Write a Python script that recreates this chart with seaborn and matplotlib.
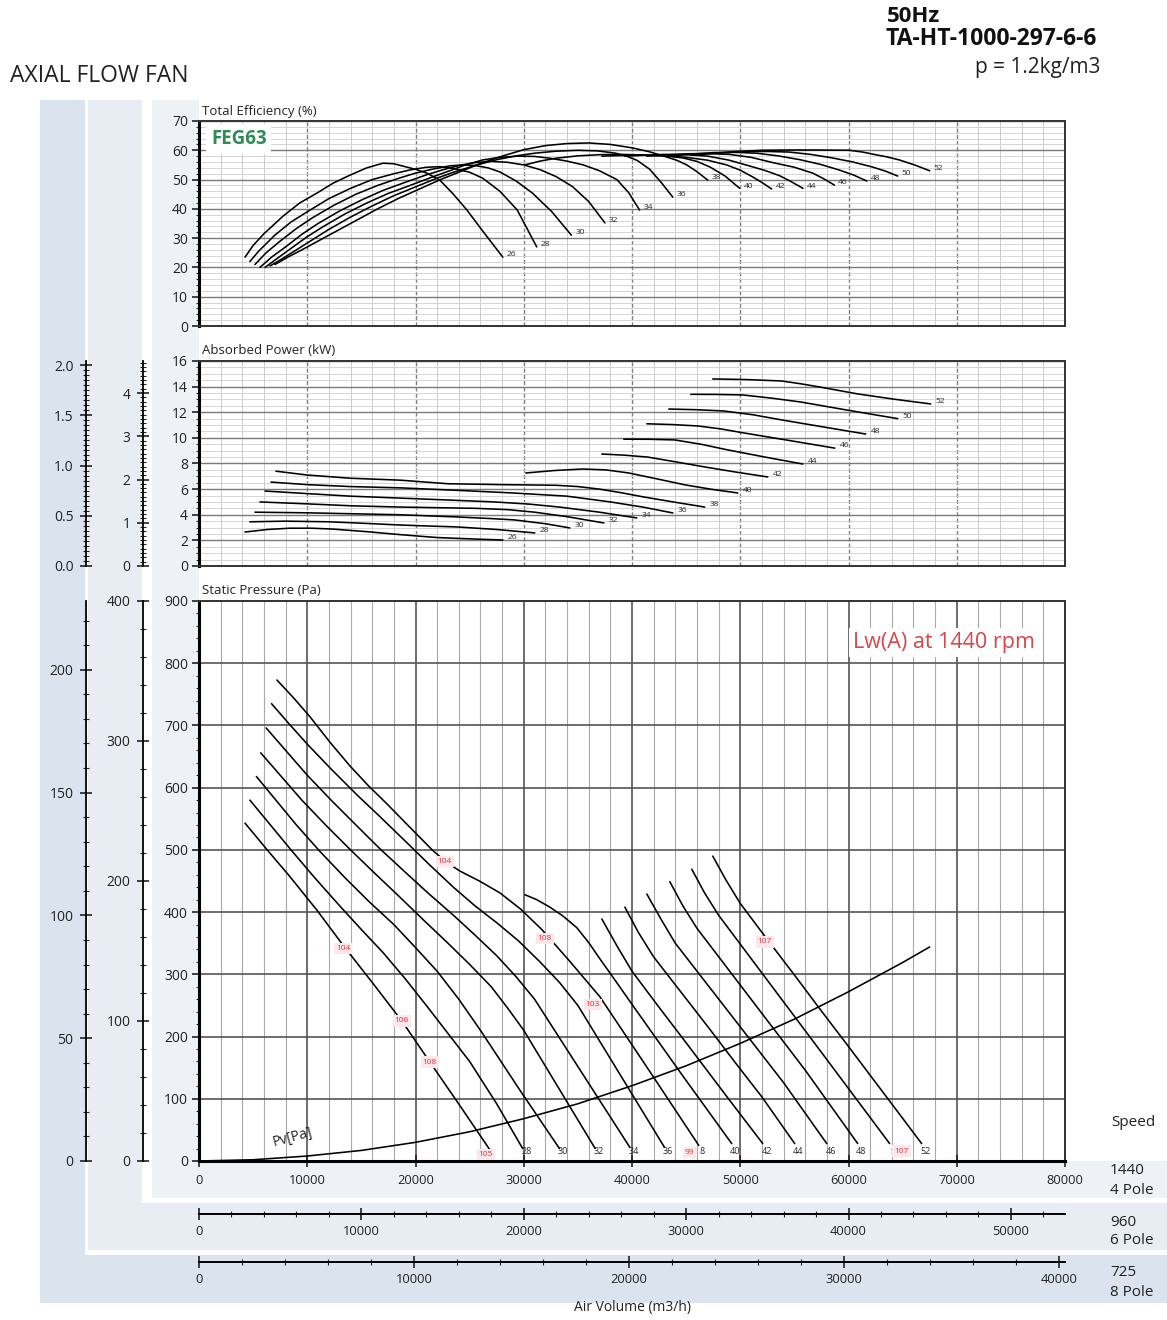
import matplotlib
matplotlib.use("Agg")
import matplotlib.pyplot as plt
from matplotlib.patches import Rectangle
from matplotlib.ticker import MultipleLocator, FormatStrFormatter, NullFormatter
import numpy as np
import pandas as pd
import seaborn as sns

# ---------------- data ----------------
ANGLES = [26, 28, 30, 32, 34, 36, 38, 40, 42, 44, 46, 48, 50, 52]

# Total efficiency (%) vs air volume (m3/h)
E26_X = [4250, 5000, 6000, 7760, 9300, 10900, 12400, 13940, 15500, 17000, 18000, 18840, 20000, 21050, 22250, 23500, 24750, 26400, 28070]
E26_Y = [23.5, 27.5, 31.5, 37.5, 42, 45.4, 48.8, 51.5, 54, 55.6, 55.4, 54.6, 53.5, 52.2, 49.8, 45, 39.6, 31.5, 23.5]
E28_X = [4700, 5500, 7000, 8500, 10000, 12000, 14000, 16000, 18000, 19500, 21000, 22200, 23500, 25000, 26200, 27800, 29400, 31200]
E28_Y = [22, 25.5, 31, 35.5, 39, 43.5, 47, 50, 52, 53.3, 54.2, 54.4, 53.8, 52.5, 50.5, 46, 39.6, 27]
E30_X = [5170, 6200, 7500, 9000, 10500, 12500, 14500, 16500, 18500, 20000, 21500, 23200, 24500, 25500, 26700, 27800, 29300, 30800, 32600, 34400]
E30_Y = [21, 25, 29, 33.3, 37, 41.3, 45, 48, 50.5, 52.2, 53.5, 54.7, 55, 54.8, 54, 52.6, 49.5, 45.4, 39, 31]
E32_X = [5630, 6700, 8000, 9500, 11000, 13000, 15000, 17000, 19000, 21000, 22500, 24000, 25500, 27000, 28500, 30000, 31500, 33000, 34500, 36000, 37500]
E32_Y = [20, 23.5, 27, 31.3, 35, 39.3, 43, 46.3, 49, 51.6, 53.3, 54.8, 55.8, 56.2, 55.9, 55, 53.4, 51, 47.6, 42.5, 35.2]
E34_X = [6100, 7200, 8500, 10000, 11500, 13500, 15500, 17500, 19500, 21500, 23000, 24600, 26200, 27800, 29500, 31000, 32400, 34000, 35500, 37000, 38600, 39700, 40700]
E34_Y = [20, 23, 26.5, 30.5, 34, 38.3, 42, 45.3, 48, 50.8, 52.8, 55, 56.7, 57.6, 58, 57.9, 57.3, 56.3, 55, 53, 50, 45.5, 39.6]
E36_X = [6560, 7700, 9000, 10500, 12000, 14000, 16000, 18000, 20000, 22000, 23500, 25500, 27500, 29300, 31000, 33000, 35000, 36800, 38500, 39500, 40500, 41640, 42700, 43770]
E36_Y = [20.5, 23, 26, 29.5, 33, 37.2, 41, 44.5, 47.5, 50.5, 52.5, 54.8, 56.8, 58.1, 59, 59.7, 60, 59.8, 59, 58, 56.5, 53.5, 49, 44]
E38_X = [7020, 8200, 9500, 11000, 12500, 14500, 16500, 18500, 20500, 22300, 24000, 26000, 28000, 30000, 32000, 34000, 36000, 38000, 40070, 41600, 43210, 44200, 45060, 46000, 47000]
E38_Y = [21, 23.5, 26, 29, 32, 36, 40, 43.7, 47, 50, 52.5, 55.5, 58, 60.2, 61.6, 62.3, 62.5, 62, 60.8, 59.5, 57.7, 56.5, 55, 52.7, 49.8]
E40_X = [30100, 31500, 33000, 35000, 37000, 39000, 41000, 43000, 44700, 46000, 47200, 48600, 49950]
E40_Y = [55, 56.3, 57.3, 58.1, 58.5, 58.6, 58.4, 58.1, 57.4, 56.2, 54.3, 51.2, 47]
E42_X = [37210, 39000, 41000, 43000, 45000, 47000, 48750, 50000, 51150, 52000, 52900]
E42_Y = [58, 58.2, 58.3, 58.1, 57.6, 56.6, 55, 53.2, 50.9, 49, 46.8]
E44_X = [39340, 41000, 43000, 45000, 47000, 49000, 50900, 52300, 53650, 54700, 55800]
E44_Y = [58, 58.3, 58.6, 58.5, 58, 56.6, 54.6, 53.1, 51.3, 49.3, 47]
E46_X = [41370, 43000, 45000, 47000, 49000, 51000, 53000, 55000, 56700, 57700, 58700]
E46_Y = [58, 58.4, 58.8, 58.9, 58.6, 57.6, 55.8, 54.2, 52.2, 50.3, 48.1]
E48_X = [43490, 45500, 47500, 49500, 51500, 53500, 55500, 57400, 59200, 60500, 61700]
E48_Y = [58, 58.7, 59.2, 59.3, 59, 58.1, 56.8, 55.2, 53.2, 51.5, 49.5]
E50_X = [45520, 47500, 50000, 52500, 54500, 56500, 58500, 60400, 62200, 63400, 64550]
E50_Y = [58.3, 58.9, 59.5, 59.6, 59.4, 58.6, 57.4, 56, 54.3, 52.9, 51.2]
E52_X = [47460, 49700, 52000, 54500, 57000, 60100, 61300, 62500, 63600, 64700, 66100, 67500]
E52_Y = [59, 59.6, 60, 60.1, 60.1, 60, 59.4, 58.5, 57.7, 56.7, 55, 53]

# Absorbed power (kW)
P26_X = [4250, 6300, 8400, 10400, 12400, 15500, 18560, 22000, 25580, 28070]
P26_Y = [2.65, 2.85, 2.95, 2.95, 2.88, 2.68, 2.45, 2.22, 2.1, 2.03]
P28_X = [4700, 8000, 12000, 15300, 18560, 21200, 23800, 27500, 31020]
P28_Y = [3.45, 3.5, 3.45, 3.33, 3.2, 3.12, 3.05, 2.85, 2.58]
P30_X = [5170, 10000, 14000, 18560, 23800, 27000, 29100, 32000, 34260]
P30_Y = [4.2, 4.15, 4.08, 4.0, 3.83, 3.7, 3.6, 3.3, 2.97]
P32_X = [5630, 10000, 14000, 18560, 22000, 25580, 28500, 31000, 34000, 37400]
P32_Y = [5.0, 4.85, 4.7, 4.6, 4.55, 4.5, 4.4, 4.2, 3.85, 3.36]
P34_X = [6100, 10000, 14000, 18560, 23000, 27300, 30500, 33300, 37000, 40440]
P34_Y = [5.85, 5.65, 5.45, 5.3, 5.15, 5.0, 4.83, 4.6, 4.2, 3.75]
P36_X = [6650, 10000, 14000, 18560, 24000, 29000, 34000, 38000, 41000, 43770]
P36_Y = [6.55, 6.35, 6.2, 6.1, 5.9, 5.7, 5.45, 5.0, 4.6, 4.14]
P38_X = [7110, 10000, 14000, 18560, 23000, 28000, 33000, 35000, 37000, 39000, 41000, 43800, 46720]
P38_Y = [7.4, 7.1, 6.85, 6.7, 6.42, 6.35, 6.3, 6.2, 6.0, 5.72, 5.4, 5.0, 4.6]
P40_X = [30190, 32800, 35460, 37600, 39700, 42300, 44970, 47400, 49770]
P40_Y = [7.26, 7.45, 7.57, 7.5, 7.26, 6.8, 6.32, 5.98, 5.7]
P42_X = [37210, 39300, 41460, 44100, 46720, 49600, 52540]
P42_Y = [8.74, 8.65, 8.5, 8.12, 7.73, 7.33, 6.95]
P44_X = [39240, 41600, 43950, 46400, 48850, 52300, 55770]
P44_Y = [9.9, 9.89, 9.84, 9.5, 9.06, 8.5, 7.96]
P46_X = [41370, 43700, 46080, 48200, 50230, 54500, 58730]
P46_Y = [11.1, 11.04, 10.93, 10.7, 10.4, 9.8, 9.2]
P48_X = [43400, 45900, 48480, 51200, 53830, 57700, 61590]
P48_Y = [12.25, 12.2, 12.1, 11.8, 11.4, 10.85, 10.3]
P50_X = [45430, 47800, 50230, 52900, 55590, 60000, 64550]
P50_Y = [13.4, 13.39, 13.35, 13.1, 12.8, 12.15, 11.5]
P52_X = [47460, 50600, 53830, 55600, 57340, 60850, 64200, 67590]
P52_Y = [14.6, 14.55, 14.44, 14.22, 13.97, 13.43, 13.02, 12.65]

# Static pressure (Pa)
S26_X = [4250, 6300, 8400, 10900, 13300, 16000, 18740, 21330, 24100, 26870]
S26_Y = [543, 500, 457, 403, 347, 287, 225, 159, 89, 18]
S28_X = [4700, 6600, 8500, 10700, 13000, 15000, 17000, 19000, 21000, 23000, 25000, 27500, 29900]
S28_Y = [580, 540, 500, 455, 410, 372, 335, 294, 250, 205, 160, 92, 20]
S30_X = [5300, 7100, 9000, 11200, 13500, 15700, 18000, 20000, 22000, 24000, 26000, 29600, 33300]
S30_Y = [618, 580, 540, 497, 455, 417, 380, 343, 305, 260, 210, 115, 20]
S32_X = [5700, 7600, 9500, 11700, 14000, 16200, 18500, 20700, 23000, 25000, 27000, 28500, 30000, 33300, 36600]
S32_Y = [656, 618, 580, 540, 500, 463, 425, 388, 350, 316, 280, 246, 210, 115, 20]
S34_X = [6200, 8100, 10000, 12200, 14500, 16700, 19000, 21200, 23500, 25500, 27500, 29300, 31000, 35400, 39800]
S34_Y = [696, 658, 620, 580, 540, 502, 465, 430, 395, 363, 330, 296, 260, 141, 22]
S36_X = [6700, 8300, 10000, 12200, 14500, 16800, 19000, 21300, 23500, 25500, 27500, 29500, 31500, 33300, 35000, 39000, 43000]
S36_Y = [735, 703, 670, 630, 590, 552, 515, 476, 440, 410, 383, 354, 320, 287, 250, 136, 22]
S38_X = [7200, 8700, 10250, 12100, 13940, 15600, 17360, 19500, 21600, 22800, 24100, 25900, 27790, 29700, 31670, 34300, 37030, 41600, 46170]
S38_Y = [773, 745, 714, 673, 635, 604, 574, 536, 499, 481, 466, 450, 431, 405, 372, 320, 264, 145, 25]
S40_X = [30100, 31200, 32410, 33600, 34900, 36000, 37030, 38500, 40070, 44600, 49210]
S40_Y = [428, 420, 408, 394, 375, 351, 325, 289, 250, 139, 28]
S42_X = [37210, 38600, 40000, 42500, 45000, 47000, 49000, 52080]
S42_Y = [389, 346, 305, 247, 190, 144, 98, 28]
S44_X = [39340, 40600, 42000, 44500, 47000, 49500, 52000, 55030]
S44_Y = [408, 367, 328, 272, 216, 159, 103, 28]
S46_X = [41370, 42700, 44000, 46500, 49000, 51500, 54000, 57990]
S46_Y = [429, 388, 350, 294, 238, 182, 126, 28]
S48_X = [43490, 44700, 46000, 48500, 51000, 53500, 56000, 60850]
S48_Y = [449, 410, 374, 317, 260, 203, 146, 28]
S50_X = [45520, 46700, 48000, 50500, 53000, 55500, 58000, 63800]
S50_Y = [469, 431, 395, 337, 279, 221, 163, 28]
S52_X = [47460, 48700, 50000, 52500, 55000, 57500, 60000, 66760]
S52_Y = [490, 451, 414, 356, 299, 241, 184, 28]

# Dynamic pressure Pv (Pa)
PV_X = [0, 5000, 10000, 15000, 20000, 25000, 30000, 35000, 40000, 45000, 50000, 55000, 60000, 65000, 67500]
PV_Y = [0, 2, 8, 17, 30, 47, 68, 92, 121, 153, 189, 228, 272, 319, 344]

# Sound power labels Lw(A) on the pressure curves
LW_X = [22700, 31950, 36380, 52260, 13300, 18740, 21330, 26500, 45300, 64900]
LW_Y = [481, 358, 252, 352, 342, 225, 159, 10, 13, 16]
LW_T = ["104", "108", "103", "107", "104", "106", "108", "105", "99", "107"]

# angle labels visible at the foot of the pressure curves (some are partly hidden
# behind red Lw labels in the reference)
SP_LABELS = ["", "28", "30", "32", "34", "36", "8", "40", "42", "44", "46", "48", "5", "52"]

X_TICKS_1440 = [0, 10000, 20000, 30000, 40000, 50000, 60000, 70000, 80000]
X_TICKS_960 = [0, 10000, 20000, 30000, 40000, 50000]
X_TICKS_725 = [0, 10000, 20000, 30000, 40000]

# ---------------- tables ----------------
def table(prefix):
    rows = []
    g = globals()
    for a in ANGLES:
        for x, y in zip(g[f"{prefix}{a}_X"], g[f"{prefix}{a}_Y"]):
            rows.append((a, x, y))
    return pd.DataFrame(rows, columns=["angle", "x", "y"])

df_eff = table("E")
df_pow = table("P")
df_sp = table("S")
df_pv = pd.DataFrame({"x": PV_X, "y": PV_Y})

# ---------------- figure ----------------
W, H = 1167, 1320
sns.set_theme(style="white")
plt.rcParams["font.family"] = ["Open Sans", "DejaVu Sans"]

fig = plt.figure(figsize=(W / 100, H / 100), dpi=100)
fig.patch.set_facecolor("white")

def fx(px):
    return px / W

def fy(py):
    return 1 - py / H

def band(x0, y0, x1, y1, color):
    fig.patches.append(Rectangle((fx(x0), fy(y1)), fx(x1) - fx(x0), fy(y0) - fy(y1),
                                 transform=fig.transFigure, color=color, zorder=-5, lw=0))

# background bands (8 pole / 6 pole / 4 pole)
band(40, 100, 85, 1303, "#dae3ee")
band(40, 1255, 1167, 1303, "#dae3ee")
band(88, 100, 142, 1250, "#e8edf4")
band(88, 1203, 1167, 1250, "#e8edf4")
band(152, 100, 199, 1198, "#eef2f7")
band(152, 1161, 1167, 1198, "#eef2f7")

X0, X1 = 199, 1065
TXT = "#222222"
YLAB = 10
XLAB = 9.3

def panel(top, bottom):
    ax = fig.add_axes([fx(X0), fy(bottom), fx(X1) - fx(X0), fy(top) - fy(bottom)])
    ax.set_facecolor("white")
    ax.set_xlim(0, 80000)
    for s in ["top", "right", "bottom"]:
        ax.spines[s].set_color("#333333")
        ax.spines[s].set_linewidth(1.4)
    ax.spines["left"].set_color("black")
    ax.spines["left"].set_linewidth(2.2)
    ax.set_axisbelow(True)
    return ax

ax_e = panel(121, 326)
ax_p = panel(361, 566)
ax_s = panel(601, 1161)

for ax, ylim, ymaj, ymin in [(ax_e, 70, 10, 2), (ax_p, 16, 2, 0.5)]:
    ax.set_ylim(0, ylim)
    ax.xaxis.set_major_locator(MultipleLocator(10000))
    ax.xaxis.set_minor_locator(MultipleLocator(2000))
    ax.yaxis.set_major_locator(MultipleLocator(ymaj))
    ax.yaxis.set_minor_locator(MultipleLocator(ymin))
    ax.xaxis.set_major_formatter(NullFormatter())
    ax.grid(True, axis="y", which="minor", color="#cfcfcf", lw=0.6)
    ax.grid(True, axis="y", which="major", color="#7a7a7a", lw=1.0)
    ax.grid(True, axis="x", which="minor", color="#c4c4c4", lw=0.6)
    ax.grid(True, axis="x", which="major", color="#808080", lw=1.0, ls=(0, (3, 1.5)))
    ax.tick_params(axis="x", which="both", length=0)
    ax.tick_params(axis="y", which="major", direction="out", length=5, width=1.2,
                   labelsize=YLAB, pad=3, colors=TXT, left=True)
    ax.tick_params(axis="y", which="minor", direction="out", length=2, width=0.8, left=True)

ax_s.set_ylim(0, 900)
ax_s.xaxis.set_major_locator(MultipleLocator(10000))
ax_s.xaxis.set_minor_locator(MultipleLocator(2000))
ax_s.yaxis.set_major_locator(MultipleLocator(100))
ax_s.yaxis.set_minor_locator(MultipleLocator(20))
ax_s.grid(True, axis="x", which="minor", color="#a8a8a8", lw=0.8)
ax_s.grid(True, axis="x", which="major", color="#555555", lw=1.2)
ax_s.grid(True, axis="y", which="major", color="#555555", lw=1.2)
ax_s.spines["bottom"].set_color("black")
ax_s.spines["bottom"].set_linewidth(2.2)
ax_s.tick_params(axis="x", which="major", direction="inout", length=8, width=1.2,
                 labelsize=XLAB, pad=5, colors=TXT, bottom=True)
ax_s.tick_params(axis="x", which="minor", length=0)
ax_s.tick_params(axis="y", which="major", direction="out", length=5, width=1.2,
                 labelsize=YLAB, pad=3, colors=TXT, left=True)
ax_s.tick_params(axis="y", which="minor", direction="out", length=2, width=0.8, left=True)

# curves
LW = 1.15
sns.lineplot(data=df_eff, x="x", y="y", units="angle", estimator=None, sort=False,
             color="black", linewidth=LW, ax=ax_e, legend=False)
sns.lineplot(data=df_pow, x="x", y="y", units="angle", estimator=None, sort=False,
             color="black", linewidth=LW, ax=ax_p, legend=False)
sns.lineplot(data=df_sp, x="x", y="y", units="angle", estimator=None, sort=False,
             color="black", linewidth=LW, ax=ax_s, legend=False)
sns.lineplot(data=df_pv, x="x", y="y", estimator=None, sort=False,
             color="black", linewidth=LW, ax=ax_s, legend=False)
for ax in (ax_e, ax_p, ax_s):
    ax.set_xlabel("")
    ax.set_ylabel("")
ax_s.set_xticks(X_TICKS_1440)
ax_s.set_xticklabels([str(t) for t in X_TICKS_1440])

# curve-end labels
for a, lab in zip(ANGLES, SP_LABELS):
    g = df_eff[df_eff.angle == a]
    ax_e.text(g.x.iloc[-1] + 350, g.y.iloc[-1] + 0.8, str(a), fontsize=6, ha="left", va="center")
    g = df_pow[df_pow.angle == a]
    ax_p.text(g.x.iloc[-1] + 450, g.y.iloc[-1] + 0.2, str(a), fontsize=6, ha="left", va="center")
    if lab:
        g = df_sp[df_sp.angle == a]
        ax_s.text(g.x.iloc[-1] + 350, 16, lab, fontsize=6.5, ha="center", va="center")

for x, y, t in zip(LW_X, LW_Y, LW_T):
    ax_s.text(x, y, t, fontsize=6, color="#e0303a", ha="center", va="center", zorder=5,
              bbox=dict(boxstyle="square,pad=0.25", fc="#fde7ea", ec="none"))

ax_s.text(8600, 38, "Pv[Pa]", fontsize=10, rotation=15, ha="center", va="center", color=TXT)
ax_s.text(60400, 833, "Lw(A) at 1440 rpm", fontsize=15.5, color="#d9454a", ha="left", va="center",
          zorder=5, bbox=dict(boxstyle="square,pad=0.2", fc="white", ec="none"))
ax_e.text(1100, 63.8, "FEG63", fontsize=13.5, fontweight="bold", color="#2e8b57", ha="left",
          va="center", zorder=5, bbox=dict(boxstyle="square,pad=0.25", fc="white", ec="none"))

# panel titles
fig.text(fx(202), fy(111), "Total Efficiency (%)", fontsize=9.5, ha="left", va="center", color=TXT)
fig.text(fx(202), fy(351), "Absorbed Power (kW)", fontsize=9.5, ha="left", va="center", color=TXT)
fig.text(fx(202), fy(590), "Static Pressure (Pa)", fontsize=9.5, ha="left", va="center", color=TXT)

# additional speed scales on the left
def yscale(px, top, bottom, ymax, major, minor, fmt):
    a = fig.add_axes([fx(px), fy(bottom), 0.0004, fy(top) - fy(bottom)])
    a.set_facecolor("none")
    for s in ["top", "right", "bottom"]:
        a.spines[s].set_visible(False)
    a.spines["left"].set_color("black")
    a.spines["left"].set_linewidth(1.3)
    a.set_ylim(0, ymax)
    a.set_xticks([])
    a.yaxis.set_major_locator(MultipleLocator(major))
    a.yaxis.set_minor_locator(MultipleLocator(minor))
    a.yaxis.set_major_formatter(FormatStrFormatter(fmt))
    a.tick_params(axis="y", which="major", direction="inout", length=8, width=1.2,
                  labelsize=YLAB, pad=5, colors=TXT, left=True)
    a.tick_params(axis="y", which="minor", direction="inout", length=4, width=0.8, left=True)
    return a

yscale(86, 361, 566, 2.04, 0.5, 0.05, "%.1f")
yscale(143, 361, 566, 4.74, 1, 0.1, "%d")
yscale(86, 601, 1161, 228, 50, 10, "%d")
yscale(143, 601, 1161, 400, 100, 20, "%d")

def xscale(py, xmax, ticks):
    a = fig.add_axes([fx(X0), fy(py), fx(X1) - fx(X0), 0.0004])
    a.set_facecolor("none")
    for s in ["top", "right", "left"]:
        a.spines[s].set_visible(False)
    a.spines["bottom"].set_color("black")
    a.spines["bottom"].set_linewidth(1.4)
    a.set_xlim(0, xmax)
    a.set_yticks([])
    a.set_xticks(ticks)
    a.set_xticklabels([str(t) for t in ticks])
    a.xaxis.set_minor_locator(MultipleLocator(2000))
    a.tick_params(axis="x", which="major", direction="inout", length=8, width=1.2,
                  labelsize=XLAB, pad=4, colors=TXT, bottom=True)
    a.tick_params(axis="x", which="minor", direction="inout", length=4, width=0.8, bottom=True)
    return a

xscale(1214, 53333, X_TICKS_960)
xscale(1262, 40278, X_TICKS_725)

# header and side texts
fig.text(fx(10), fy(76), "AXIAL FLOW FAN", fontsize=16.5, ha="left", va="center", color=TXT)
fig.text(fx(887), fy(17), "50Hz", fontsize=16, fontweight="bold", ha="left", va="center", color="#111111")
fig.text(fx(885), fy(39), "TA-HT-1000-297-6-6", fontsize=16.5, fontweight="bold", ha="left", va="center", color="#111111")
fig.text(fx(1100), fy(67), "p = 1.2kg/m3", fontsize=15, ha="right", va="center", color=TXT)

fig.text(fx(1133), fy(1123), "Speed", fontsize=11, ha="center", va="center", color=TXT)
for y1, t1, y2, t2 in [(1170, "1440", 1190, "4 Pole"), (1222, "960", 1241, "6 Pole"), (1273, "725", 1292, "8 Pole")]:
    fig.text(fx(1110), fy(y1), t1, fontsize=11, ha="left", va="center", color=TXT)
    fig.text(fx(1110), fy(y2), t2, fontsize=11, ha="left", va="center", color=TXT)
fig.text(fx(632), fy(1308), "Air Volume (m3/h)", fontsize=10, ha="center", va="center", color=TXT)

fig.savefig("out.png", dpi=100, facecolor="white")
